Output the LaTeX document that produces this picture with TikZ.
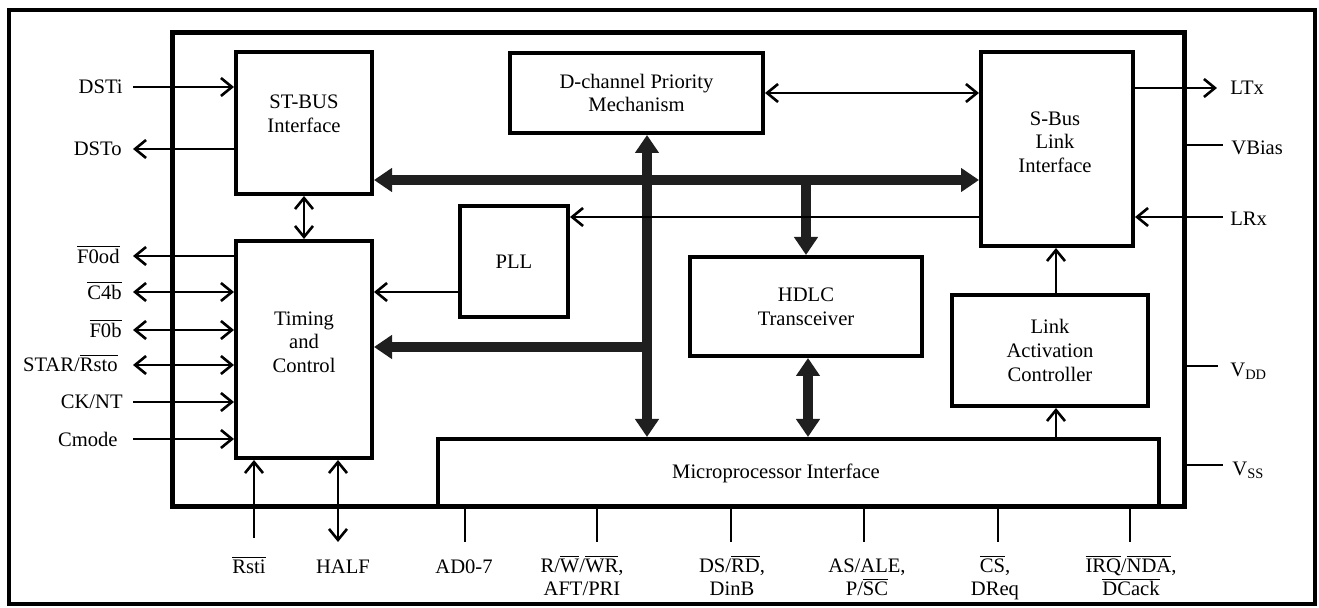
\documentclass[tikz,border=0pt]{standalone}
\usepackage{fontspec}
\setmainfont{Liberation Serif}
\usetikzlibrary{arrows.meta}
\newcommand\ovl[1]{$\overline{\hbox{#1}}$}
\begin{document}
\begin{tikzpicture}[x=0.5pt,y=-0.5pt,
  font=\fontsize{10.3pt}{11.8pt}\selectfont,
  box/.style={draw, line width=2pt, inner sep=0pt, align=center},
  txt/.style={inner sep=0pt, align=center},
  lab/.style={inner sep=0pt, align=center},
  sig/.style={line width=1.3pt, >={Straight Barb[length=5.5pt,width=9pt]}},
  bus/.style={line width=5pt, draw=black!88, >={Triangle[length=9pt,width=11.5pt]}}]
\useasboundingbox (0,0) rectangle (1319,608);
\draw[line width=2pt] (9,10) rectangle (1315,604);

% chip outline
\node[box, line width=2.5pt, minimum width=506pt, minimum height=237pt] (chip) at (678,270) {};

% blocks
\node[box, minimum width=68pt, minimum height=71pt] (stbus) at (304,123) {};
\node[txt] (tstbus) at (304,114) {ST-BUS\\Interface};
\node[box, minimum width=68pt, minimum height=108.5pt] (timing) at (304,349.5) {};
\node[txt] (ttiming) at (304,342) {Timing\\and\\Control};
\node[box, minimum width=126.5pt, minimum height=40pt] (dch) at (636.5,93) {D-channel Priority\\Mechanism};
\node[box, minimum width=76pt, minimum height=97pt] (sbus) at (1057,149) {};
\node[txt] (tsbus) at (1055,142) {S-Bus\\Link\\Interface};
\node[box, minimum width=54pt, minimum height=55.5pt] (pll) at (514,261.5) {PLL};
\node[box, minimum width=116pt, minimum height=49.5pt] (hdlc) at (806,306.5) {HDLC\\Transceiver};
\node[box, minimum width=98pt, minimum height=55.5pt] (lac) at (1050,350.5) {Link\\Activation\\Controller};
\node[box, minimum width=360.5pt, minimum height=34pt] (micro) at (798.5,473) {};
\node[txt] (tmicro) at (776,473) {Microprocessor Interface};

% helper coordinates
\coordinate (xv) at (647,0);
\coordinate (xh) at (806,0);
\coordinate (xh2) at (808,0);
\coordinate (xl) at (1056,0);
\coordinate (yb) at (0,180);
\coordinate (yt) at (0,347);
\coordinate (yp) at (0,217);
\coordinate (yq) at (0,292);

% thick buses
\draw[bus,<->] (stbus.east |- yb) -- (sbus.west |- yb);
\draw[bus,<->] (dch.south -| xv) -- (micro.north -| xv);
\draw[bus,->] (xv |- yt) -- (timing.east |- yt);
\draw[bus,->] (xh |- yb) -- (hdlc.north -| xh);
\draw[bus,<->] (hdlc.south -| xh2) -- (micro.north -| xh2);

% internal thin connectors
\draw[sig,<->] (dch.east) -- (sbus.west |- dch.east);
\draw[sig,->] (sbus.west |- yp) -- (pll.east |- yp);
\draw[sig,->] (pll.west |- yq) -- (timing.east |- yq);
\draw[sig,<->] (stbus.south) -- (timing.north);
\draw[sig,->] (micro.north -| xl) -- (lac.south -| xl);
\draw[sig,->] (lac.north -| xl) -- (sbus.south -| xl);

% left pins
\coordinate (pDSTi) at (133,87);
\coordinate (pDSTo) at (133,149);
\coordinate (pF0od) at (133,256);
\coordinate (pC4b) at (133,292);
\coordinate (pF0b) at (133,330);
\coordinate (pSTAR) at (133,365);
\coordinate (pCKNT) at (133,402);
\coordinate (pCmode) at (133,439);
\draw[sig,->] (pDSTi) -- (stbus.west |- pDSTi);
\draw[sig,->] (stbus.west |- pDSTo) -- (pDSTo);
\draw[sig,->] (timing.west |- pF0od) -- (pF0od);
\draw[sig,<->] (pC4b) -- (timing.west |- pC4b);
\draw[sig,<->] (pF0b) -- (timing.west |- pF0b);
\draw[sig,<->] (pSTAR) -- (timing.west |- pSTAR);
\draw[sig,->] (pCKNT) -- (timing.west |- pCKNT);
\draw[sig,->] (pCmode) -- (timing.west |- pCmode);
\node[lab,anchor=east] (lDSTi) at (123,87) {DSTi};
\node[lab,anchor=east] (lDSTo) at (122,149) {DSTo};
\node[lab,anchor=east] (lF0od) at (120,254) {\ovl{F0od}};
\node[lab,anchor=east] (lC4b) at (122,290) {\ovl{C4b}};
\node[lab,anchor=east] (lF0b) at (122,328) {\ovl{F0b}};
\node[lab,anchor=east] (lSTAR) at (118,363) {STAR/\ovl{Rsto}};
\node[lab,anchor=east] (lCKNT) at (123,402) {CK/NT};
\node[lab,anchor=east] (lCmode) at (118,439) {Cmode};

% right pins
\coordinate (pLTx) at (1217,88);
\coordinate (pVB) at (1223,145);
\coordinate (pLRx) at (1223,217);
\coordinate (pVDD) at (1218,366);
\coordinate (pVSS) at (1223,465);
\draw[sig,->] (sbus.east |- pLTx) -- (pLTx);
\draw[sig] (chip.east |- pVB) -- (pVB);
\draw[sig,->] (pLRx) -- (sbus.east |- pLRx);
\draw[sig] (chip.east |- pVDD) -- (pVDD);
\draw[sig] (chip.east |- pVSS) -- (pVSS);
\node[lab,anchor=west] (lLTx) at (1230,88) {LTx};
\node[lab,anchor=west] (lVB) at (1231,148) {VBias};
\node[lab,anchor=west] (lLRx) at (1230,219) {LRx};
\node[lab,anchor=west] (lVDD) at (1230,371) {V\textsubscript{DD}};
\node[lab,anchor=west] (lVSS) at (1232,470) {V\textsubscript{SS}};

% bottom pins
\coordinate (pRsti) at (254,538);
\coordinate (pHALF) at (338,542);
\coordinate (pAD) at (465,542);
\coordinate (pRW) at (597,542);
\coordinate (pDS) at (731,542);
\coordinate (pAS) at (864,542);
\coordinate (pCS) at (998,542);
\coordinate (pIRQ) at (1130,542);
\draw[sig,->] (pRsti) -- (timing.south -| pRsti);
\draw[sig,<->] (timing.south -| pHALF) -- (pHALF);
\draw[sig] (chip.south -| pAD) -- (pAD);
\draw[sig] (chip.south -| pRW) -- (pRW);
\draw[sig] (chip.south -| pDS) -- (pDS);
\draw[sig] (chip.south -| pAS) -- (pAS);
\draw[sig] (chip.south -| pCS) -- (pCS);
\draw[sig] (chip.south -| pIRQ) -- (pIRQ);
\node[lab,anchor=base] (lRsti) at (249,574) {\ovl{Rsti}};
\node[lab,anchor=base] (lHALF) at (343,574) {HALF};
\node[lab,anchor=base] (lAD) at (464,574) {AD0-7};
\node[lab,anchor=base] (lRW) at (582,596) {R/\ovl{W}/\ovl{WR},\\AFT/PRI};
\node[lab,anchor=base] (lDS) at (732,596) {DS/\ovl{RD},\\DinB};
\node[lab,anchor=base] (lAS) at (867,596) {AS/ALE,\\P/\ovl{SC}};
\node[lab,anchor=base] (lCS) at (995,596) {\ovl{CS},\\DReq};
\node[lab,anchor=base] (lIRQ) at (1131,596) {\ovl{IRQ}/\ovl{NDA},\\\ovl{DCack}};
\end{tikzpicture}
\end{document}
